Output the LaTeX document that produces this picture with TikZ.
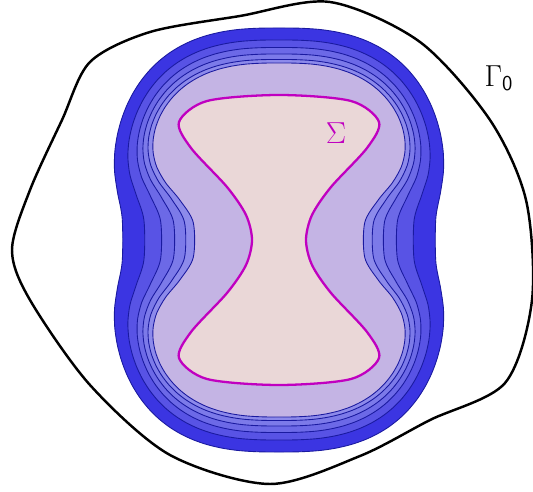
\documentclass[tikz,border=0pt]{standalone}
\usepackage{amsmath,amssymb}
\usepackage{tikz}

\definecolor{lvA}{HTML}{3B35E2}
\definecolor{lvB}{HTML}{5853E5}
\definecolor{lvC}{HTML}{6C69E7}
\definecolor{lvD}{HTML}{7C7AE9}
\definecolor{lvE}{HTML}{8D8AEB}
\definecolor{lvF}{HTML}{C4B4E4}
\definecolor{lvline}{HTML}{1A1AA0}
\definecolor{sigfill}{HTML}{EAD7D7}
\definecolor{sigline}{HTML}{C000C0}

\tikzset{
  declare function={
    sx(\a)=sign(cos(\a))*pow(abs(cos(\a)),0.74);
    sy(\a)=sign(sin(\a))*pow(abs(sin(\a)),0.74);
  },
  level/.style={lvline,line width=0.5pt},
}

% one level set: half height, half width, depth of the waist, colour
\newcommand{\levelcurve}[4]{%
  \draw[level,fill=#4] plot[smooth cycle,domain=2.5:357.5,samples=72,variable=\t]
    ({#2*sx(\t)*(1-#3/(1+pow(#1*abs(sy(\t))/58,3)))},{#1*sy(\t)});}

\begin{document}
\begin{tikzpicture}[x=0.02cm,y=-0.02cm]
\useasboundingbox (0,0) rectangle (533,492);

% outer curve
\draw[line width=1.4pt] plot[smooth cycle] coordinates {
  (12,250) (30,190) (62,120) (90,62) (150,32) (240,16) (330,2) (420,42)
  (490,120) (526,200) (532,300) (505,383) (430,420) (360,456) (270,484)
  (170,455) (90,385) (30,300)};
\node (gamma) at (499,78) {\fontsize{17}{20}\selectfont $\Gamma_{\mathsf{0}}$};

\begin{scope}[shift={(279,240)}]
\foreach \T/\A/\d/\c in {212/174.3/0.105/lvA, 200/164.4/0.185/lvB,
    192.5/158.0/0.259/lvC, 186/154.6/0.327/lvD, 180.5/151.6/0.387/lvE,
    177/148.0/0.432/lvF} {
  \levelcurve{\T}{\A}{\d}{\c}
}
% the hourglass
\draw[sigline,line width=1.3pt,fill=sigfill] plot[smooth cycle] coordinates {
  (0,-145) (72,-139) (100,-118) (88,-92) (52,-53) (33,-25) (27,0) (33,25) (52,53)
  (88,92) (100,118) (72,139) (0,145) (-72,139) (-100,118) (-88,92) (-52,53)
  (-33,25) (-27,0) (-33,-25) (-52,-53) (-88,-92) (-100,-118) (-72,-139)};
\node[sigline] (sigma) at (57,-107) {\fontsize{16}{19}\selectfont $\Sigma$};
\end{scope}
\end{tikzpicture}
\end{document}
